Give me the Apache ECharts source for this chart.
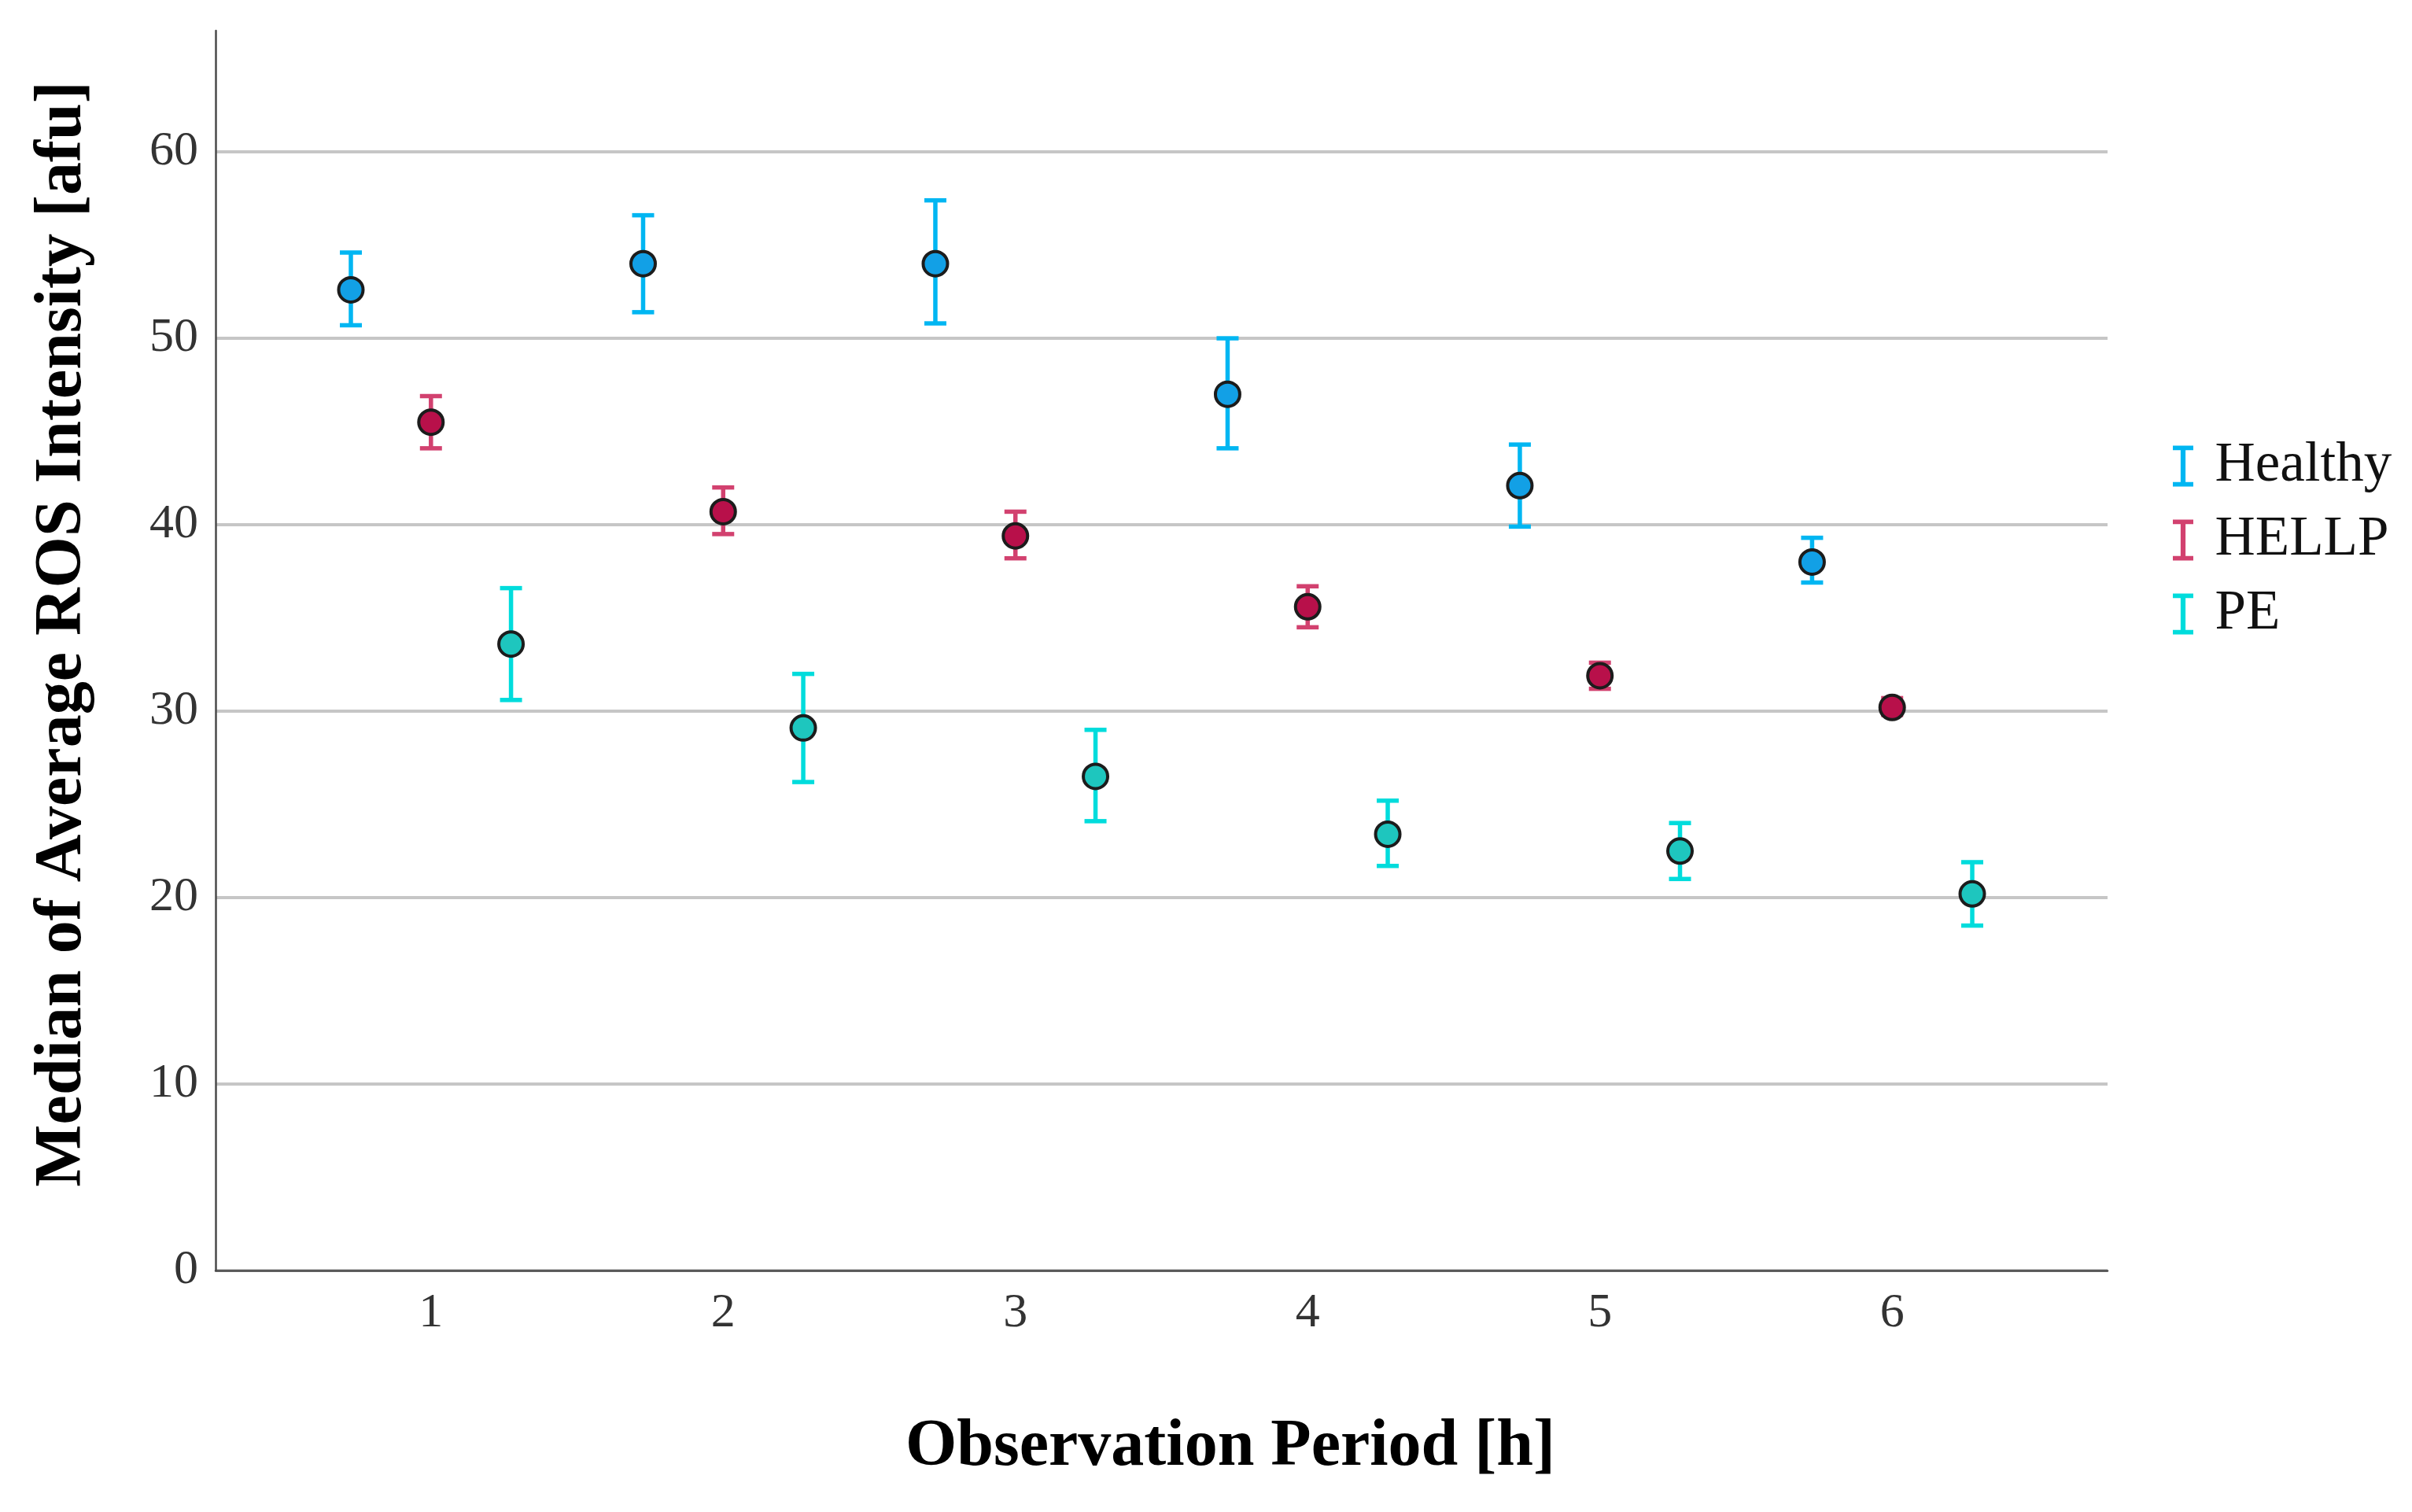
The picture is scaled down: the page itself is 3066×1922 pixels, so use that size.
<!DOCTYPE html>
<html>
<head>
<meta charset="utf-8">
<script src="https://cdn.jsdelivr.net/npm/echarts@6/dist/echarts.min.js"></script>
<style>
html,body{margin:0;padding:0;background:#fff;}
#chart{width:3066px;height:1922px;}
</style>
</head>
<body>
<div id="chart"></div>
<script>
// ---- data ----
const periods = [1, 2, 3, 4, 5, 6];
const groupNames = ['Healthy', 'HELLP', 'PE'];

const healthyMedian = [52.6, 54.0, 54.0, 47.0, 42.1, 38.0];
const healthyLow    = [50.7, 51.4, 50.8, 44.1, 39.9, 36.9];
const healthyHigh   = [54.6, 56.6, 57.4, 50.0, 44.3, 39.3];

const hellpMedian = [45.5, 40.7, 39.4, 35.6, 31.9, 30.2];
const hellpLow    = [44.1, 39.5, 38.2, 34.5, 31.2, 29.8];
const hellpHigh   = [46.9, 42.0, 40.7, 36.7, 32.6, 30.7];

const peMedian = [33.6, 29.1, 26.5, 23.4, 22.5, 20.2];
const peLow    = [30.6, 26.2, 24.1, 21.7, 21.0, 18.5];
const peHigh   = [36.6, 32.0, 29.0, 25.2, 24.0, 21.9];

const yTicks = [0, 10, 20, 30, 40, 50, 60];

// ---- styling ----
const barColors  = ['#00B6F2', '#D2416F', '#00DCDC'];
const fillColors = ['#12A0E6', '#B8104A', '#1EC6BE'];
const groupOffsets = [-0.274, 0, 0.274];
const serif = "'Liberation Serif', 'Times New Roman', serif";
const ibeam = 'path://M0,0 L10,0 L10,2.2 L6.2,2.2 L6.2,17.8 L10,17.8 L10,20 L0,20 L0,17.8 L3.8,17.8 L3.8,2.2 L0,2.2 Z';

function build(med, lo, hi) {
  return periods.map((p, i) => [p, med[i], lo[i], hi[i]]);
}
const groupData = [
  build(healthyMedian, healthyLow, healthyHigh),
  build(hellpMedian, hellpLow, hellpHigh),
  build(peMedian, peLow, peHigh)
];

function makeRender(offset, barColor, fillColor) {
  return function (params, api) {
    const x = api.value(0) + offset;
    const c = api.coord([x, api.value(1)]);
    const l = api.coord([x, api.value(2)]);
    const h = api.coord([x, api.value(3)]);
    const cap = 14;
    const ls = { stroke: barColor, lineWidth: 5.5 };
    return {
      type: 'group',
      children: [
        { type: 'line', shape: { x1: c[0], y1: h[1], x2: c[0], y2: l[1] }, style: ls },
        { type: 'line', shape: { x1: c[0] - cap, y1: h[1], x2: c[0] + cap, y2: h[1] }, style: ls },
        { type: 'line', shape: { x1: c[0] - cap, y1: l[1], x2: c[0] + cap, y2: l[1] }, style: ls },
        { type: 'circle', shape: { cx: c[0], cy: c[1], r: 15.5 }, style: { fill: fillColor, stroke: '#1c1c1c', lineWidth: 4 } }
      ]
    };
  };
}

const chart = echarts.init(document.getElementById('chart'), null, { renderer: 'canvas' });

chart.setOption({
  backgroundColor: '#ffffff',
  animation: false,
  grid: { left: 274, right: 387, top: 39, bottom: 307, containLabel: false },
  xAxis: {
    type: 'value',
    min: 0.263,
    max: 6.737,
    axisLine: { show: true, lineStyle: { color: '#4a4a4a', width: 2.5 } },
    axisTick: { show: false },
    splitLine: { show: false },
    axisLabel: {
      customValues: periods,
      margin: 24,
      fontFamily: serif,
      fontSize: 62,
      color: '#333333'
    }
  },
  yAxis: {
    type: 'value',
    min: 0,
    max: 66.5,
    interval: 10,
    axisLine: { show: true, lineStyle: { color: '#4a4a4a', width: 2.5 } },
    axisTick: { show: false },
    splitLine: { show: true, showMaxLine: false, lineStyle: { color: '#c6c6c6', width: 4 } },
    axisLabel: {
      customValues: yTicks,
      margin: 22,
      fontFamily: serif,
      fontSize: 62,
      color: '#333333'
    }
  },
  legend: {
    orient: 'vertical',
    left: 2757,
    top: 552,
    itemWidth: 27,
    itemHeight: 52,
    itemGap: 23,
    textStyle: { fontFamily: serif, fontSize: 71, color: '#111111', padding: [0, 0, 0, 22] },
    data: groupNames.map((n, i) => ({ name: n, icon: ibeam, itemStyle: { color: barColors[i] } }))
  },
  graphic: [
    {
      type: 'text',
      x: 80, y: 806,
      rotation: Math.PI / 2,
      style: {
        text: 'Median of Average ROS Intensity [afu]',
        fontFamily: serif, fontWeight: 'bold', fontSize: 84,
        fill: '#000000', align: 'center', verticalAlign: 'middle'
      }
    },
    {
      type: 'text',
      x: 1564, y: 1840,
      style: {
        text: 'Observation Period [h]',
        fontFamily: serif, fontWeight: 'bold', fontSize: 84,
        fill: '#000000', align: 'center', verticalAlign: 'middle'
      }
    }
  ],
  series: groupNames.map((n, i) => ({
    name: n,
    type: 'custom',
    itemStyle: { color: barColors[i] },
    encode: { x: 0, y: [1, 2, 3] },
    data: groupData[i],
    renderItem: makeRender(groupOffsets[i], barColors[i], fillColors[i])
  }))
});
</script>
</body>
</html>
